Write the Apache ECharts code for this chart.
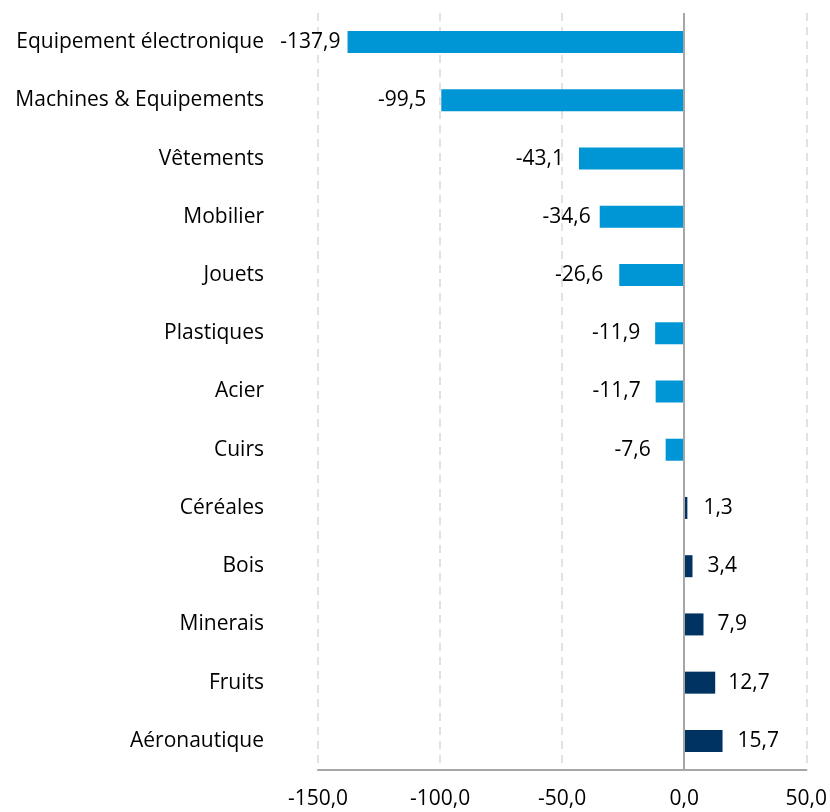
<!DOCTYPE html>
<html>
<head>
<meta charset="utf-8">
<script src="https://cdn.jsdelivr.net/npm/echarts@6/dist/echarts.min.js"></script>
<style>
  html, body { margin: 0; padding: 0; background: #fff; }
  #main { width: 830px; height: 812px; }
</style>
</head>
<body>
<div id="main"></div>
<script>
  // categories, top to bottom
  var categories = ['Equipement électronique', 'Machines & Equipements', 'Vêtements', 'Mobilier', 'Jouets',
    'Plastiques', 'Acier', 'Cuirs', 'Céréales', 'Bois', 'Minerais', 'Fruits', 'Aéronautique'];
  var values = [-137.9, -99.5, -43.1, -34.6, -26.6, -11.9, -11.7, -7.6, 1.3, 3.4, 7.9, 12.7, 15.7];
  var xTicks = [-150, -100, -50, 0, 50];
  // gap between bar end and its value label (hand placed in the original)
  var labelGaps = [7, 15, 15, 9, 16, 15, 15, 15, 16, 15, 14, 13, 15];

  var fontFam = '"Open Sans", "Liberation Sans", sans-serif';
  function fmt(v) { return v.toFixed(1).replace('.', ','); }

  var chart = echarts.init(document.getElementById('main'));
  chart.setOption({
    animation: false,
    grid: { left: 318, right: 23, top: 13, bottom: 42 },
    xAxis: {
      type: 'value',
      min: xTicks[0],
      max: xTicks[xTicks.length - 1],
      interval: 50,
      axisLine: { show: true, onZero: false, lineStyle: { color: '#a6a6a6', width: 2 } },
      axisTick: { show: false },
      splitLine: { show: true, lineStyle: { color: '#d9d9d9', type: [8, 6], width: 1.5 } },
      axisLabel: { formatter: fmt, color: '#000', fontSize: 21, fontFamily: fontFam, margin: 19 }
    },
    yAxis: {
      type: 'category',
      inverse: true,
      data: categories,
      axisLine: { show: false },
      axisTick: { show: false },
      axisLabel: { color: '#000', fontSize: 21, fontFamily: fontFam, margin: 54 }
    },
    series: [{
      type: 'bar',
      barWidth: 22,
      data: values.map(function (v, i) {
        return {
          value: v,
          itemStyle: { color: v < 0 ? '#0095d4' : '#003262' },
          label: { position: v < 0 ? 'left' : 'right', distance: labelGaps[i] }
        };
      }),
      label: {
        show: true,
        color: '#000',
        fontSize: 21,
        fontFamily: fontFam,
        formatter: function (p) { return fmt(p.value); }
      },
      markLine: {
        silent: true,
        symbol: 'none',
        label: { show: false },
        lineStyle: { color: '#a6a6a6', type: 'solid', width: 2 },
        data: [{ xAxis: 0 }]
      }
    }]
  });
</script>
</body>
</html>
